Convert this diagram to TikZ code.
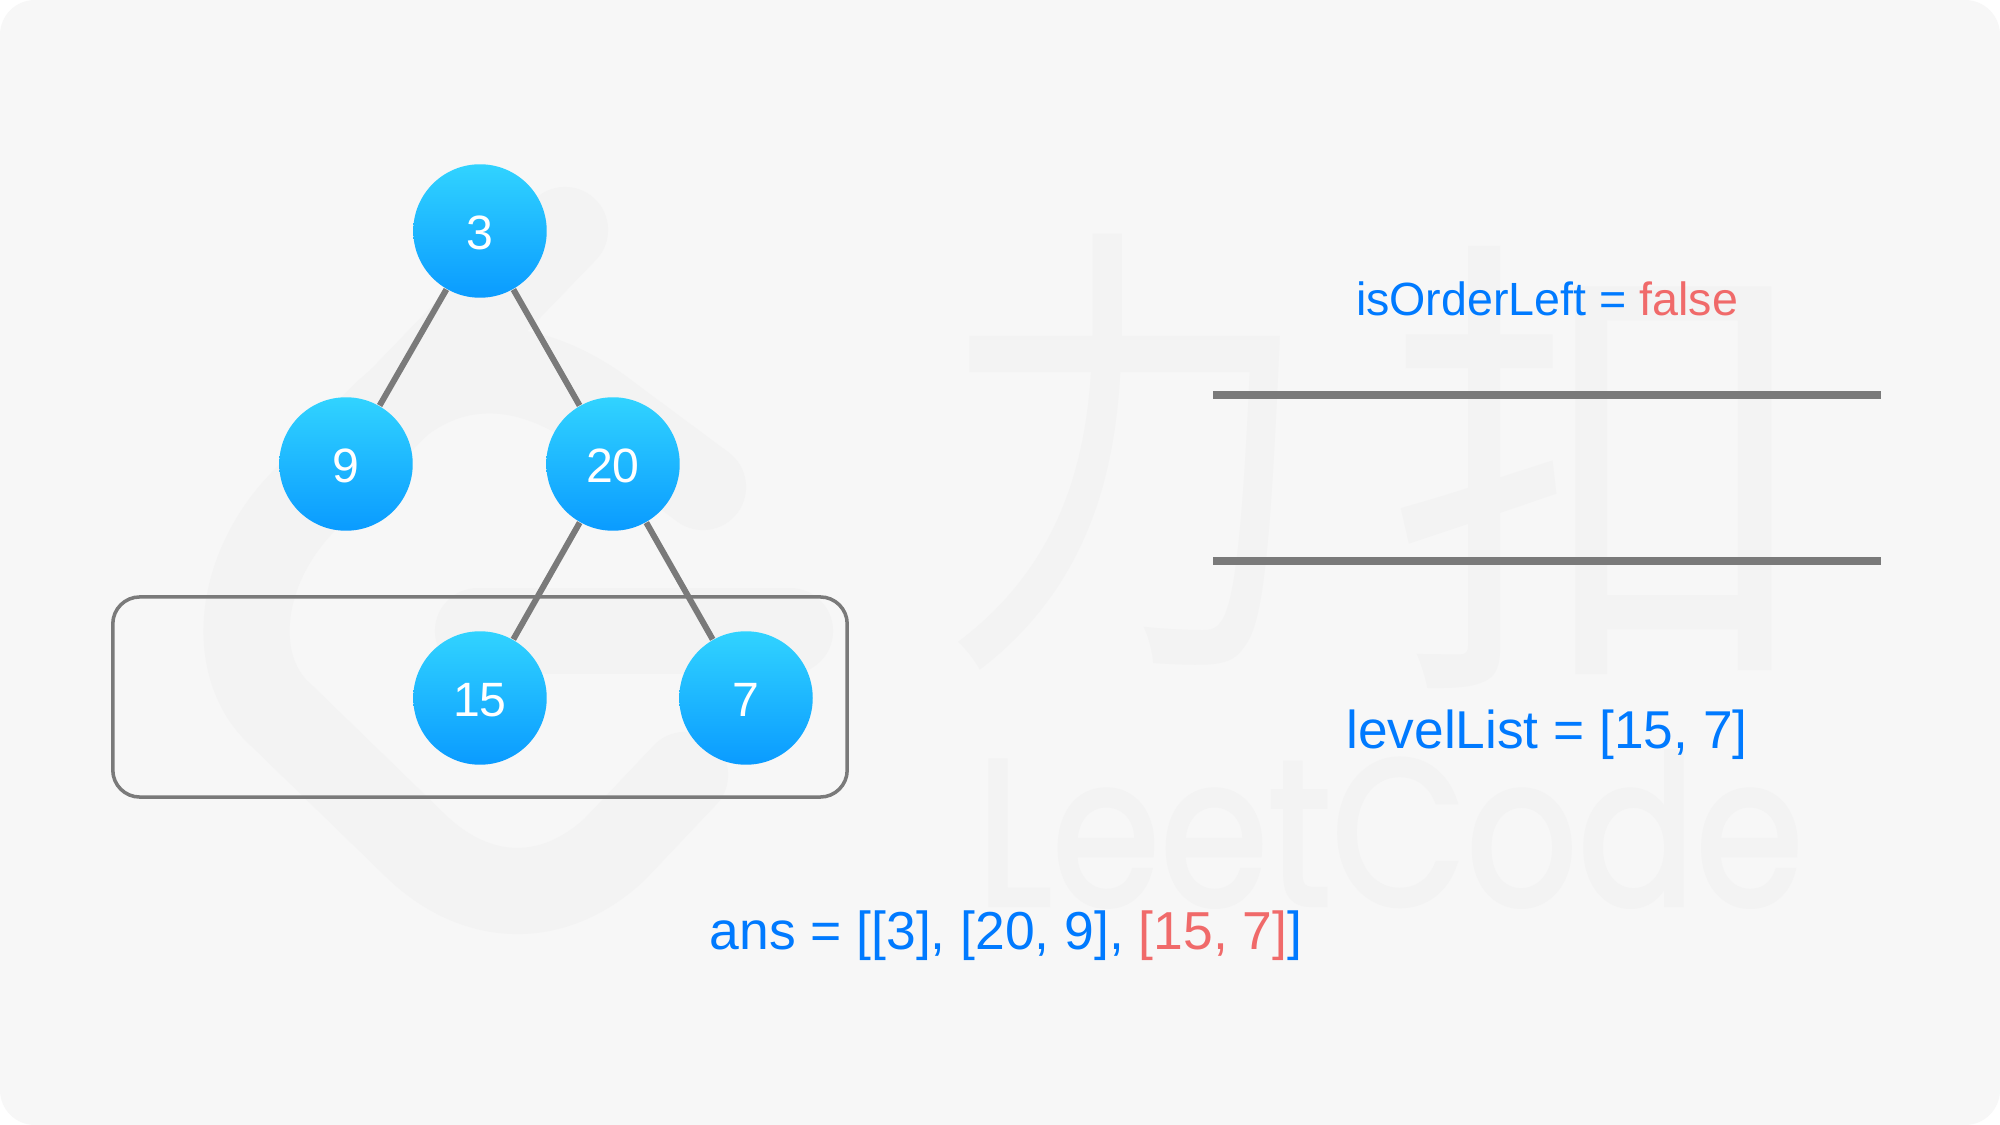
\documentclass[tikz,border=0pt]{standalone}
\usepackage{fontspec}
\setmainfont{Liberation Sans}
\newfontfamily\cjk{Noto Sans CJK SC}
\newfontfamily\wordfont[FakeBold=2]{Poppins}
\definecolor{pagebg}{HTML}{F7F7F7}
\definecolor{markgray}{HTML}{F3F3F3}
\definecolor{linegray}{HTML}{7A7A7A}
\definecolor{textblue}{HTML}{007AFF}
\definecolor{textred}{HTML}{F06A6A}
\definecolor{nodetop}{HTML}{31D3FF}
\definecolor{nodebottom}{HTML}{0A9BFF}
\begin{document}
\begin{tikzpicture}[
    x=0.01cm, y=-0.01cm,
    treenode/.style={circle, minimum size=1.334cm, inner sep=0pt, top color=nodetop, bottom color=nodebottom, text=white, text height=10.5pt, text depth=0pt, font=\fontsize{13.7}{15}\selectfont},
    treeline/.style={draw=linegray, line width=1.7pt},
    barline/.style={draw=linegray, line width=2pt},
    levelbox/.style={rectangle, draw=linegray, line width=1pt, rounded corners=0.27cm, minimum width=7.34cm, minimum height=2cm, inner sep=0pt},
    caption/.style={anchor=base, text=textblue},
    logoline/.style={draw=markgray, line width=24.5pt, line cap=round, line join=round},
    logotext/.style={text=markgray, font=\cjk\fontsize{114}{120}\selectfont}
]
    \useasboundingbox (0,0) rectangle (2000,1125);
    \fill[white] (0,0) rectangle (2000,1125);
    \fill[pagebg, rounded corners=0.35cm] (0,0) rectangle (2000,1125);

    % watermark
    \draw[logoline] (565,230) -- (300,505) .. controls (235,575) and (230,670) .. (281,715) -- (419,849) .. controls (480,905) and (555,905) .. (615,849) -- (685,775);
    \draw[logoline] (703,487) -- (610,418) .. controls (530,355) and (440,350) .. (370,430);
    \draw[logoline] (478,631) -- (790,631);
    \node[logotext] (li) at (1127,452) {\scalebox{0.94}[1.18]{力}};
    \node[logotext] (kou) at (1602,468) {\scalebox{1.07}[1.2]{扣}};
    \node[text=markgray, anchor=base, font=\wordfont\fontsize{59}{60}\selectfont] (word) at (1390,905) {\scalebox{0.84}[1]{LeetCode}};

    % tree
    \node[levelbox] (level) at (480,697) {};
    \node[treenode] (n3) at (480,231) {3};
    \node[treenode] (n9) at (346,464) {9};
    \node[treenode] (n20) at (613,464) {20};
    \node[treenode] (n15) at (480,698) {15};
    \node[treenode] (n7) at (746,698) {7};
    \draw[treeline] (n3) -- (n9);
    \draw[treeline] (n3) -- (n20);
    \draw[treeline] (n20) -- (n15);
    \draw[treeline] (n20) -- (n7);

    % queue
    \coordinate (topleft) at (1213,395);
    \coordinate (topright) at (1881,395);
    \coordinate (botleft) at (1213,561);
    \coordinate (botright) at (1881,561);
    \draw[barline] (topleft) -- (topright);
    \draw[barline] (botleft) -- (botright);

    \node[caption, font=\fontsize{13.25}{15}\selectfont] (order) at (1547,315.5) {isOrderLeft = \textcolor{textred}{false}};
    \node[caption, font=\fontsize{15.15}{17}\selectfont] (list) at (1547,748.5) {levelList = [15, 7]};
    \node[caption, font=\fontsize{15.2}{17}\selectfont] (ans) at (1006,949) {ans = [[3], [20, 9], \textcolor{textred}{[15, 7]}]};
\end{tikzpicture}
\end{document}
